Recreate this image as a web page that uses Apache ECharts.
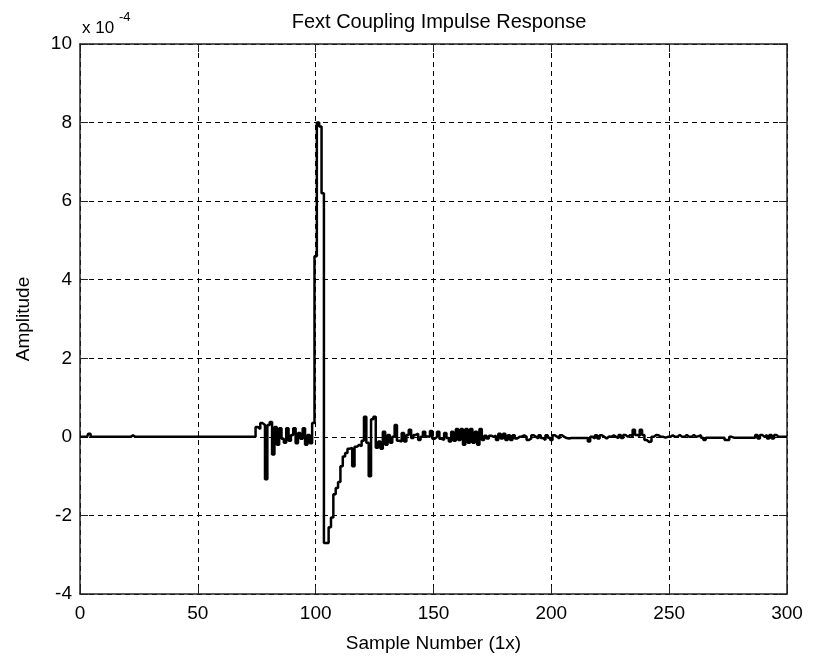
<!DOCTYPE html>
<html>
<head>
<meta charset="utf-8">
<title>Fext Coupling Impulse Response</title>
<script src="https://cdn.jsdelivr.net/npm/echarts@6/dist/echarts.min.js"></script>
<style>
  html, body { margin: 0; padding: 0; background: #fff; }
  #chart { width: 814px; height: 658px; }
</style>
</head>
<body>
<div id="chart"></div>
<script>
// amplitude values (x 10^-4), one per sample number
const quietLead = [ // samples 0..74
  0, 0, 0, 0, 0.08, 0, 0, 0, 0, 0,
  0, 0, 0, 0, 0, 0, 0, 0, 0, 0,
  0, 0, 0.04, 0, 0, 0, 0, 0, 0, 0,
  0, 0, 0, 0, 0, 0, 0, 0, 0, 0,
  0, 0, 0, 0, 0, 0, 0, 0, 0, 0,
  0, 0, 0, 0, 0, 0, 0, 0, 0, 0,
  0, 0, 0, 0, 0, 0, 0, 0, 0, 0,
  0, 0, 0, 0, 0
]
const precursor = [ // samples 75..99
  0.25, 0.2, 0.35, 0.3, -1.08, 0.3, 0.38, -0.45, 0.25, -0.2,
  0.22, -0.05, -0.15, 0.22, -0.1, 0.05, 0.22, -0.16, 0.1, -0.05,
  0.22, -0.2, 0.05, -0.16, 0.35
]
const mainPulse = [ // samples 100..126
  4.6, 8.0, 7.9, 6.2, -2.7, -2.7, -2.3, -2.05, -1.46, -1.3,
  -1.15, -0.75, -0.5, -0.41, -0.3, -0.28, -0.75, -0.25, -0.2, -0.24,
  -0.1, 0.51, -0.15, -1.0, 0.45, 0.51, -0.28
]
const ringing = [ // samples 127..200
  -0.12, -0.3, 0.13, -0.2, 0.05, -0.15, 0.0, 0.3, -0.1, -0.12,
  0.1, -0.12, 0.05, 0.18, -0.03, 0.05, 0.08, -0.08, 0.0, 0.13,
  0.01, 0.0, 0.15, -0.05, 0.0, 0.13, -0.05, -0.08, 0.1, -0.03,
  -0.12, 0.13, -0.1, 0.2, -0.08, 0.2, -0.2, 0.2, -0.15, 0.2,
  -0.15, 0.13, -0.2, 0.2, -0.08, 0.03, -0.04, 0.03, 0.0, 0.03,
  -0.08, 0.08, -0.04, 0.08, -0.08, 0.04, -0.08, 0.04, -0.04, 0.0,
  0.01, 0.04, 0.0, -0.08, -0.04, 0.04, 0.0, -0.04, 0.04, -0.03,
  -0.08, 0.04, -0.02, -0.08
]
const tail = [ // samples 201..300
  0.04, 0.0, -0.04, 0.04, 0.0, -0.03, -0.04, -0.03, -0.03, -0.03,
  -0.03, -0.03, -0.03, -0.03, -0.03, -0.12, 0.0, -0.04, 0.04, -0.04,
  0.04, 0.0, -0.04, 0.01, 0.0, 0.04, 0.0, -0.03, 0.05, -0.03,
  0.05, 0.0, 0.05, 0.0, 0.18, 0.05, 0.02, 0.18, 0.05, -0.08,
  -0.13, -0.12, 0.0, 0.05, 0.04, 0.0, 0.0, -0.02, 0.0, 0.0,
  0.04, 0.0, 0.0, 0.05, 0.0, 0.0, 0.05, 0.0, 0.0, 0.05,
  0.0, 0.02, 0.04, -0.02, -0.08, -0.02, -0.02, -0.02, -0.02, -0.02,
  -0.02, -0.02, -0.02, -0.08, -0.08, 0.0, -0.02, -0.02, -0.02, -0.02,
  -0.02, -0.02, -0.02, -0.02, -0.02, -0.02, 0.05, -0.04, 0.05, 0.0,
  0.05, -0.04, 0.05, -0.04, 0.05, 0.0, 0.0, 0.0, 0.0, 0.0
]
const xTicks = [0, 50, 100, 150, 200, 250, 300]
const yTicks = [-4, -2, 0, 2, 4, 6, 8, 10]

const amplitude = [].concat(quietLead, precursor, mainPulse, ringing, tail)
const points = amplitude.map((v, i) => [i, v])

const font = "'Liberation Sans', Arial, sans-serif"
const frame = '#222'

const chart = echarts.init(document.getElementById('chart'))

const option = {
  animation: false,
  backgroundColor: '#fff',
  textStyle: { fontFamily: font },
  title: {
    text: 'Fext Coupling Impulse Response',
    left: 434,
    top: 7,
    textAlign: 'center',
    textStyle: { fontFamily: font, fontSize: 20, fontWeight: 'normal', color: '#000' }
  },
  grid: { left: 80, right: 27, top: 44, bottom: 57 },
  xAxis: [
    {
      type: 'value',
      min: xTicks[0],
      max: xTicks[xTicks.length - 1],
      interval: 50,
      name: 'Sample Number (1x)',
      nameLocation: 'middle',
      nameGap: 40,
      nameTextStyle: { fontFamily: font, fontSize: 19, color: '#000' },
      axisLine: { onZero: false, lineStyle: { color: frame, width: 1.5 } },
      axisTick: { inside: true, length: 8, lineStyle: { color: frame } },
      axisLabel: { margin: 10, fontFamily: font, fontSize: 19, color: '#000' },
      splitLine: { show: true, lineStyle: { color: '#000', type: [5, 4], width: 1 } }
    },
    {
      type: 'value',
      position: 'top',
      min: xTicks[0],
      max: xTicks[xTicks.length - 1],
      interval: 50,
      axisLine: { onZero: false, lineStyle: { color: frame, width: 1.5 } },
      axisTick: { inside: true, length: 8, lineStyle: { color: frame } },
      axisLabel: { show: false },
      splitLine: { show: false }
    }
  ],
  yAxis: [
    {
      type: 'value',
      min: yTicks[0],
      max: yTicks[yTicks.length - 1],
      interval: 2,
      name: 'Amplitude',
      nameLocation: 'middle',
      nameGap: 47,
      nameTextStyle: { fontFamily: font, fontSize: 19, color: '#000' },
      axisLine: { show: true, onZero: false, lineStyle: { color: frame, width: 1.5 } },
      axisTick: { show: true, inside: true, length: 8, lineStyle: { color: frame } },
      axisLabel: { margin: 8, fontFamily: font, fontSize: 19, color: '#000' },
      splitLine: { show: true, lineStyle: { color: '#000', type: [5, 4], width: 1 } }
    },
    {
      type: 'value',
      position: 'right',
      min: yTicks[0],
      max: yTicks[yTicks.length - 1],
      interval: 2,
      axisLine: { show: true, onZero: false, lineStyle: { color: frame, width: 1.5 } },
      axisTick: { show: true, inside: true, length: 8, lineStyle: { color: frame } },
      axisLabel: { show: false },
      splitLine: { show: false }
    }
  ],
  graphic: [
    {
      type: 'text',
      left: 82,
      top: 20,
      style: { text: 'x 10', fontFamily: font, fontSize: 17, fill: '#000' }
    },
    {
      type: 'text',
      left: 119,
      top: 11,
      style: { text: '-4', fontFamily: font, fontSize: 13, fill: '#000' }
    }
  ],
  series: [
    {
      name: 'Amplitude',
      type: 'line',
      step: 'middle',
      data: points,
      showSymbol: false,
      lineStyle: { color: '#000', width: 2.5 },
      z: 5
    }
  ]
}

chart.setOption(option)
</script>
</body>
</html>
